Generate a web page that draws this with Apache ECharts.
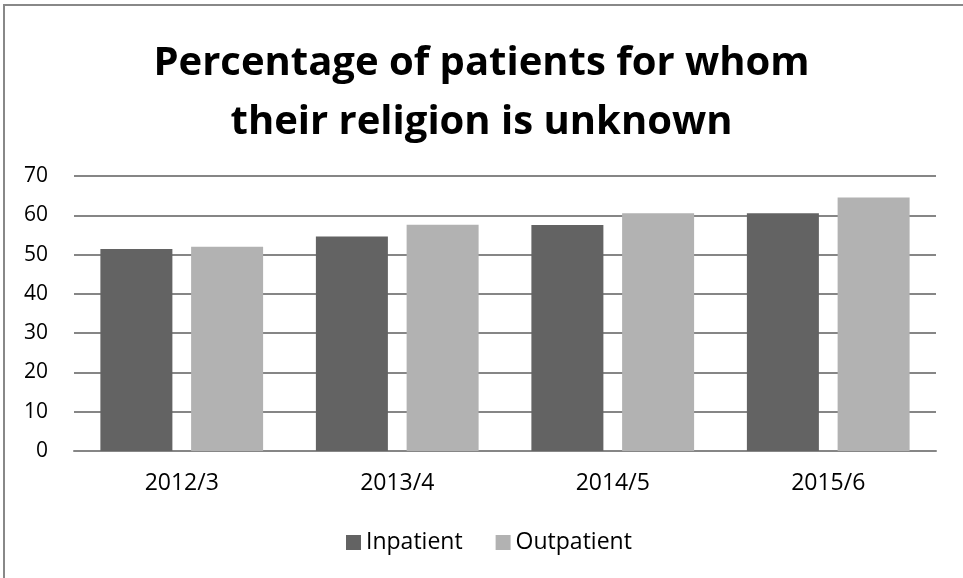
<!DOCTYPE html>
<html>
<head>
<meta charset="utf-8">
<script src="https://cdn.jsdelivr.net/npm/echarts@6/dist/echarts.min.js"></script>
<style>
  html, body { margin: 0; padding: 0; background: #fff; }
  #chart { width: 963px; height: 578px; }
</style>
</head>
<body>
<div id="chart"></div>
<script>
const categories = ['2012/3', '2013/4', '2014/5', '2015/6']
const inpatient = [51.4, 54.6, 57.5, 60.5]
const outpatient = [52.0, 57.6, 60.5, 64.5]
const seriesNames = ['Inpatient', 'Outpatient']

const font = 'Open Sans'
const chart = echarts.init(document.getElementById('chart'))

chart.setOption({
  animation: false,
  color: ['#636363', '#b2b2b2'],
  title: {
    text: 'Percentage of patients for whom\ntheir religion is unknown',
    left: 'center',
    top: 29,
    textStyle: {
      fontFamily: font,
      fontWeight: 'bold',
      fontSize: 40,
      lineHeight: 59,
      color: '#000'
    }
  },
  // outer chart frame
  graphic: [{
    type: 'rect',
    shape: { x: 4, y: 5, width: 975, height: 600 },
    style: { fill: 'none', stroke: '#888', lineWidth: 2 },
    silent: true
  }],
  legend: {
    data: seriesNames,
    top: 526,
    left: 341,
    itemWidth: 15,
    itemHeight: 15,
    itemGap: 33,
    icon: 'rect',
    textStyle: { fontFamily: font, fontSize: 23, color: '#000' }
  },
  grid: { left: 74, right: 27, top: 176, bottom: 127 },
  xAxis: {
    type: 'category',
    data: categories,
    axisTick: { show: false },
    axisLine: { lineStyle: { color: '#868686', width: 2 } },
    axisLabel: { fontFamily: font, fontSize: 23, color: '#000', margin: 21 }
  },
  yAxis: {
    type: 'value',
    min: 0,
    max: 70,
    interval: 10,
    axisLine: { show: false },
    axisTick: { show: false },
    axisLabel: { fontFamily: font, fontSize: 21, color: '#000', margin: 26 },
    splitLine: { lineStyle: { color: '#868686', width: 2 } }
  },
  series: [
    {
      name: seriesNames[0],
      type: 'bar',
      data: inpatient,
      barWidth: 72,
      barGap: '26%'
    },
    {
      name: seriesNames[1],
      type: 'bar',
      data: outpatient,
      barWidth: 72,
      barGap: '26%'
    }
  ]
})
</script>
</body>
</html>
